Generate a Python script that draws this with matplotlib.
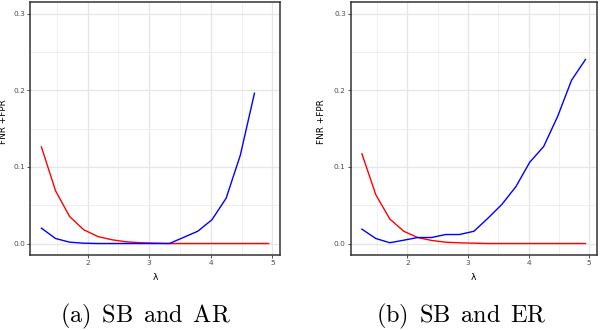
import numpy as np
import matplotlib
matplotlib.use("Agg")
import matplotlib.pyplot as plt
from matplotlib.ticker import MultipleLocator

plt.rcParams['font.family'] = ['DejaVu Sans']
plt.rcParams['mathtext.fontset'] = 'cm'

lam = [1.25, 1.48, 1.71, 1.94, 2.17, 2.40, 2.63, 2.86, 3.10, 3.33,
       3.56, 3.79, 4.02, 4.25, 4.48, 4.71, 4.94]

a_blue = [0.020, 0.0065, 0.0017, 0.0004, 0.0, 0.0, 0.0, 0.0, 0.0, 0.0,
          0.008, 0.016, 0.031, 0.059, 0.115, 0.196, np.nan]
a_red = [0.126, 0.0687, 0.035, 0.0178, 0.009, 0.0048, 0.0022, 0.001, 0.0004, 0.0,
         0.0, 0.0, 0.0, 0.0, 0.0, 0.0, 0.0]

b_blue = [0.0187, 0.0065, 0.001, 0.0043, 0.0078, 0.0078, 0.0117, 0.0117, 0.016, 0.033,
          0.051, 0.074, 0.106, 0.1265, 0.1657, 0.213, 0.240]
b_red = [0.117, 0.0635, 0.032, 0.016, 0.0078, 0.004, 0.0017, 0.0009, 0.0004, 0.0,
         0.0, 0.0, 0.0, 0.0, 0.0, 0.0, 0.0]

xticks = [2, 3, 4, 5]
yticks = [0.0, 0.1, 0.2, 0.3]
ytick_labels = ["0.0", "0.1", "0.2", "0.3"]
captions = ["(a) SB and AR", "(b) SB and ER"]
ylabel = "FNR +FPR"
xlabel = "λ"

fig = plt.figure(figsize=(6.02, 3.30), dpi=100)
W, H = 602, 330
boxes = [(30, 280), (350.7, 596.7)]
top_px, bot_px = 2, 255
ylab_x = [3.5, 322]
cap_x = [145.5, 461]

series = [(a_blue, a_red), (b_blue, b_red)]

for i, ((l, r), (blue, red)) in enumerate(zip(boxes, series)):
    ax = fig.add_axes([l / W, (H - bot_px) / H, (r - l) / W, (bot_px - top_px) / H])
    ax.plot(lam, red, color='#FF0000', lw=1.0, zorder=3)
    ax.plot(lam, blue, color='#0000FF', lw=1.0, zorder=4)
    ax.set_xlim(1.065, 5.125)
    ax.set_ylim(-0.015, 0.315)
    ax.set_xticks(xticks)
    ax.set_xticklabels([str(t) for t in xticks])
    ax.set_yticks(yticks)
    ax.set_yticklabels(ytick_labels)
    ax.xaxis.set_minor_locator(MultipleLocator(0.5))
    ax.yaxis.set_minor_locator(MultipleLocator(0.05))
    ax.grid(which='major', color='#E6E6E6', lw=0.9, zorder=0)
    ax.grid(which='minor', color='#EDEDED', lw=0.6, zorder=0)
    ax.set_axisbelow(True)
    ax.tick_params(which='minor', length=0)
    ax.tick_params(which='major', length=2, width=0.6, color='#333333',
                   labelsize=5.3, labelcolor='#4D4D4D', pad=1.5)
    for s in ax.spines.values():
        s.set_color('#333333')
        s.set_linewidth(1.1)
    fig.text(ylab_x[i] / W, 1 - 122 / H, ylabel, rotation=90, ha='center', va='center',
             fontsize=6.4, color='black')
    fig.text(((l + r) / 2) / W, 1 - 277 / H, xlabel, ha='center', va='center',
             fontsize=6.6, color='black')
    cap = captions[i].replace(' ', r'\ \,')
    fig.text(cap_x[i] / W, 1 - 316 / H, r'$\mathrm{' + cap + '}$', ha='center', va='center',
             fontsize=17.5, color='black')

fig.savefig('out.png', dpi=100)
